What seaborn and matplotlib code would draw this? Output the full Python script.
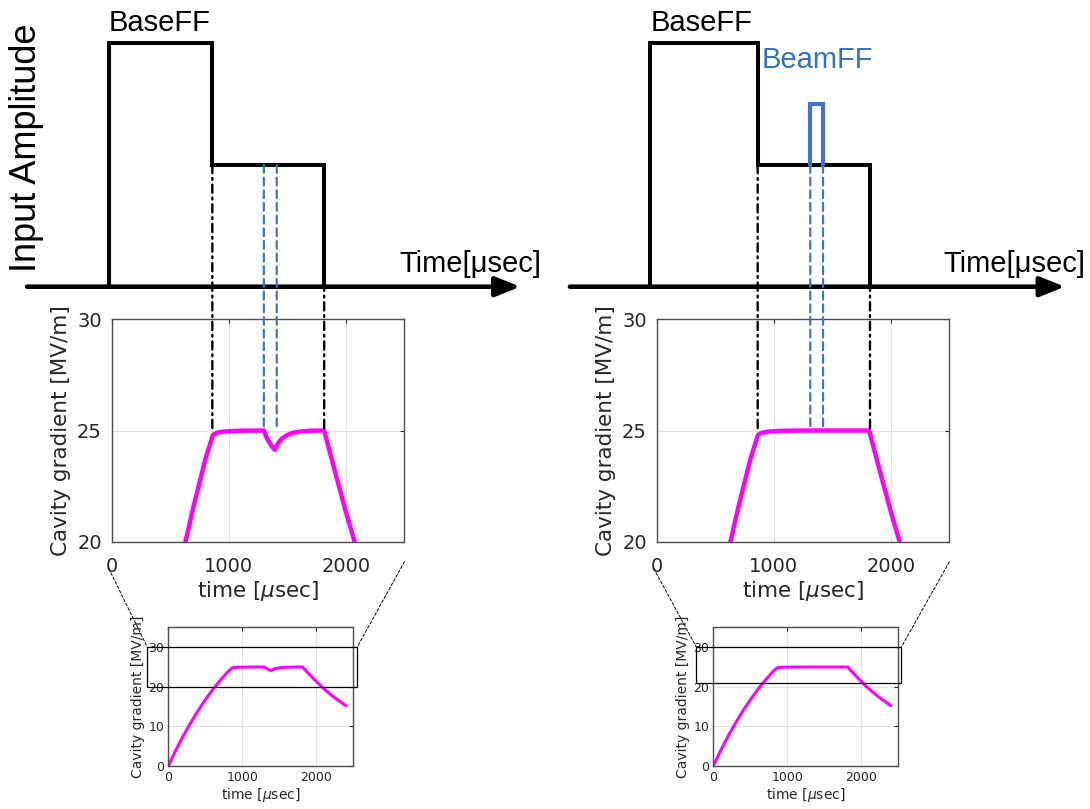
import numpy as np
import seaborn as sns
import matplotlib.pyplot as plt
from matplotlib.patches import ConnectionPatch, Rectangle

# cavity gradient [usec, MV/m]
fill_t = [0, 100, 200, 300, 400, 500, 600, 700, 800, 865, 900, 950, 1000, 1100]
fill_v = [0, 3.9, 7.5, 10.8, 13.9, 16.7, 19.3, 21.6, 23.7, 24.8, 24.9, 24.95, 24.97, 24.99]
dip_t = [1300, 1315, 1330, 1350, 1370, 1392, 1420, 1450, 1500, 1550, 1600, 1700]
dip_v = [25.0, 24.8, 24.62, 24.44, 24.28, 24.13, 24.42, 24.62, 24.8, 24.9, 24.95, 24.99]
flat_t = [1300, 1700]
flat_v = [25.0, 25.0]
decay_t = [1815, 1900, 2000, 2100, 2200, 2300, 2400]
decay_v = [25.0, 23.3, 21.35, 19.55, 17.95, 16.55, 15.25]

# input amplitude schematic (times in usec, arbitrary amplitude)
base_t_left = [-25, 860, 1815]
base_t_right = [-55, 863, 1822]
base_levels = [2.0, 1.0]
beam_t = [1310, 1425]
beam_level = 1.5
beam_marks_left = [1300, 1410]
beam_marks_right = [1312, 1421]
arrow_left = [-722, 3490]
arrow_right = [-740, 3486]

# zoom boxes drawn in the full-range plots [t0, t1, v0, v1]
box_left = [-283, 2552, 20, 30]
box_right = [-228, 2540, 21, 30]

MAGENTA = "#FF00FF"
BLUE = "#4472C4"
SCHEME_FONT = ["Liberation Sans", "DejaVu Sans"]

sns.set_style("white")
plt.rcParams["font.family"] = ["DejaVu Sans"]
plt.rcParams["axes.edgecolor"] = "#4d4d4d"
plt.rcParams["axes.linewidth"] = 1.0


def matlab_axes(ax, xticks, yticks, tick_size, pad_x, pad_y):
    ax.set_xticks(xticks)
    ax.set_yticks(yticks)
    ax.grid(True, color="#e2e2e2", lw=0.8)
    ax.tick_params(direction="in", top=True, right=True, length=3,
                   labelsize=tick_size, colors="#262626", width=0.8)
    ax.tick_params(axis="x", pad=pad_x)
    ax.tick_params(axis="y", pad=pad_y)
    for s in ax.spines.values():
        s.set_visible(True)


def draw_panel(fig, x0, base_t, marks_blue, series_t, series_v, box, arrow,
               beam=False, left_line_y=-0.12, right_line_y=-0.09):
    w = 0.2686
    ax_top = fig.add_axes([x0, 0.6456, w, 0.3009])
    ax_mid = fig.add_axes([x0, 0.3304, w, 0.2749])
    ax_in = fig.add_axes([x0 + 0.052, 0.0533, 0.1697, 0.1711])

    # --- schematic input amplitude
    ax_top.set_xlim(0, 2500)
    ax_top.set_ylim(0, 2)
    ax_top.axis("off")
    ax_top.annotate("", xy=(arrow[1], 0), xytext=(arrow[0], 0),
                    arrowprops=dict(arrowstyle="-|>,head_length=0.75,head_width=0.3",
                                    lw=3.3, color="k", mutation_scale=20,
                                    shrinkA=0, shrinkB=0),
                    annotation_clip=False)
    hi, lo = base_levels
    xs = [base_t[0], base_t[0], base_t[1], base_t[1], base_t[2], base_t[2]]
    ys = [0, hi, hi, lo, lo, 0]
    ax_top.plot(xs, ys, color="k", lw=2.9, clip_on=False, solid_joinstyle="miter")
    ax_top.annotate("BaseFF", xy=(base_t[0], hi), xytext=(0, 14.5),
                    textcoords="offset points", ha="left", va="center", color="k",
                    fontsize=21, family=SCHEME_FONT, annotation_clip=False)
    if beam:
        ax_top.plot([beam_t[0], beam_t[0], beam_t[1], beam_t[1]],
                    [lo, beam_level, beam_level, lo], color=BLUE, lw=3.0,
                    clip_on=False, solid_joinstyle="miter")
        ax_top.annotate("BeamFF", xy=(base_t[1], beam_level), xytext=(3, 32),
                        textcoords="offset points", ha="left", va="center",
                        fontsize=21, color="#2F73C0", family=SCHEME_FONT,
                        annotation_clip=False)
    ax_top.annotate("Time[\u03bcsec]", xy=(arrow[1], 0), xytext=(15, 16),
                    textcoords="offset points", ha="right", va="center", color="k",
                    fontsize=21, family=SCHEME_FONT, annotation_clip=False)

    # --- zoomed cavity gradient
    sns.lineplot(x=series_t, y=series_v, ax=ax_mid, color=MAGENTA, lw=3.2, sort=False)
    ax_mid.set_xlim(0, 2500)
    ax_mid.set_ylim(20, 30)
    matlab_axes(ax_mid, [0, 1000, 2000], [20, 25, 30], 14, 11, 7)
    ax_mid.set_xlabel(r"time [$\mu$sec]", fontsize=15.5, labelpad=2, color="#262626")
    ax_mid.set_ylabel("Cavity gradient [MV/m]", fontsize=15.5, labelpad=4, color="#262626")

    # dash-dot lines at BaseFF edges, dashed at beam
    for t in (base_t[1], base_t[2]):
        con = ConnectionPatch(xyA=(t, lo), coordsA=ax_top.transData,
                              xyB=(t, 25), coordsB=ax_mid.transData,
                              color="k", lw=1.7, linestyle=(0, (3.5, 2, 0.8, 2)))
        fig.add_artist(con)
    for t in marks_blue:
        con = ConnectionPatch(xyA=(t, lo), coordsA=ax_top.transData,
                              xyB=(t, 25), coordsB=ax_mid.transData,
                              color=BLUE, lw=1.6, linestyle=(0, (3.5, 2.2)))
        fig.add_artist(con)

    # --- full-range cavity gradient
    sns.lineplot(x=series_t, y=series_v, ax=ax_in, color=MAGENTA, lw=2.2, sort=False)
    ax_in.set_xlim(0, 2500)
    ax_in.set_ylim(0, 35)
    matlab_axes(ax_in, [0, 1000, 2000], [0, 10, 20, 30], 9, 4, 3)
    ax_in.set_xlabel(r"time [$\mu$sec]", fontsize=10, labelpad=1, color="#262626")
    ax_in.set_ylabel("Cavity gradient [MV/m]", fontsize=10, labelpad=2, color="#262626")
    ax_in.add_patch(Rectangle((box[0], box[2]), box[1] - box[0], box[3] - box[2],
                              fill=False, ec="k", lw=0.9, clip_on=False, zorder=5))

    for frac, bx in (((-0.01, left_line_y), box[0]), ((1.0, right_line_y), box[1])):
        con = ConnectionPatch(xyA=frac, coordsA=ax_mid.transAxes,
                              xyB=(bx, box[3]), coordsB=ax_in.transData,
                              color="k", lw=0.7, linestyle=(0, (3, 2)))
        fig.add_artist(con)


fig = plt.figure(figsize=(10.9, 8.09), dpi=100)

left_t = fill_t + dip_t + decay_t
left_v = fill_v + dip_v + decay_v
right_t = fill_t + flat_t + decay_t
right_v = fill_v + flat_v + decay_v

draw_panel(fig, 0.1024, base_t_left, beam_marks_left, left_t, left_v, box_left,
           arrow_left)
draw_panel(fig, 0.6024, base_t_right, beam_marks_right, right_t, right_v, box_right,
           arrow_right, beam=True)

fig.text(27 / 1090, 1 - 148 / 809, "Input Amplitude", rotation=90, ha="center",
         va="center", fontsize=26, family=SCHEME_FONT, color="k")

fig.savefig("out.png", dpi=100)
